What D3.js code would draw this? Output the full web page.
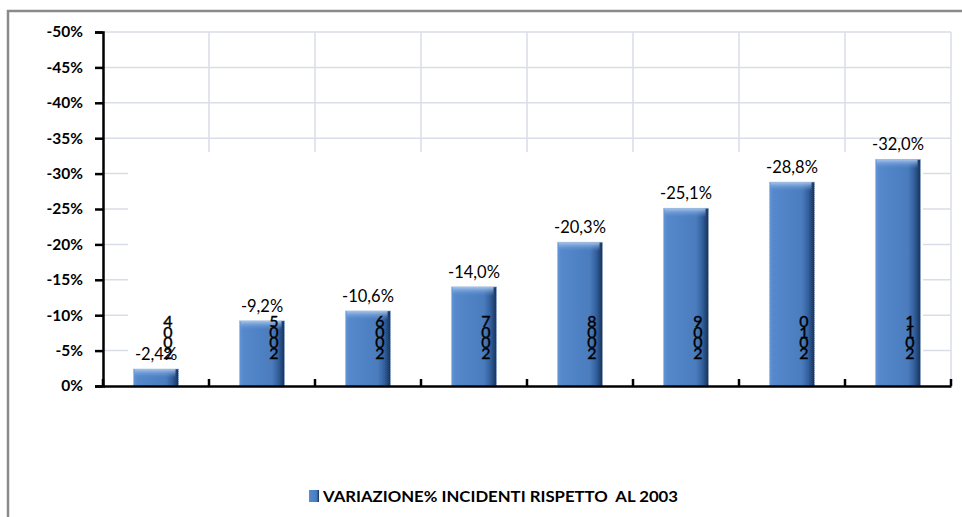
<!DOCTYPE html>
<html>
<head>
<meta charset="utf-8">
<script src="https://cdn.jsdelivr.net/npm/d3@7"></script>
<style>
html,body{margin:0;padding:0;background:#fff;}
svg{display:block;}
</style>
</head>
<body>
<svg id="chart" width="962" height="517"></svg>
<script>
const years = ["2004","2005","2006","2007","2008","2009","2010","2011"];
const values = [-2.4, -9.2, -10.6, -14.0, -20.3, -25.1, -28.8, -32.0];
const tickValues = [0, -5, -10, -15, -20, -25, -30, -35, -40, -45, -50];
const seriesName = "VARIAZIONE% INCIDENTI RISPETTO  AL 2003";

(function(){
const svg = d3.select("#chart");
const font = "Lato, 'Open Sans', 'Liberation Sans', sans-serif";

const pL = 103, pR = 951, pT = 32, pB = 386;
const x = d3.scaleBand().domain(years).range([pL, pR]).paddingInner(0.575).paddingOuter(0.2875);
const y = d3.scaleLinear().domain([0, -50]).range([pB, pT]);

// outer border
svg.append("path").attr("d", `M8,517 L8,11 L962,11`).attr("fill","none").attr("stroke","#8a8a8a").attr("stroke-width",2.5);

const defs = svg.append("defs");
const g1 = defs.append("linearGradient").attr("id","barGrad").attr("x1","0").attr("x2","1").attr("y1","0").attr("y2","0");
[["0%","#6396d6"],["8%","#5589cc"],["72%","#4a7cbe"],["86%","#34609c"],["100%","#15325a"]].forEach(s=>g1.append("stop").attr("offset",s[0]).attr("stop-color",s[1]));
const g2 = defs.append("linearGradient").attr("id","topGrad").attr("x1","0").attr("x2","0").attr("y1","0").attr("y2","1");
[["0%","#a9c6ec",1],["100%","#5b8dce",0]].forEach(s=>g2.append("stop").attr("offset",s[0]).attr("stop-color",s[1]).attr("stop-opacity",s[2]));

// gridlines
const step = x.step();
const boundaries = d3.range(years.length + 1).map(i => pL + i * step);
const grid = svg.append("g");
grid.selectAll("line.h").data(tickValues.filter(v => v !== 0)).join("line")
  .attr("x1", pL).attr("x2", pR).attr("y1", d => y(d)).attr("y2", d => y(d))
  .attr("stroke", "#d9dde8").attr("stroke-width", 1.5);
grid.selectAll("line.v").data(boundaries.slice(1)).join("line")
  .attr("x1", d => d).attr("x2", d => d).attr("y1", pT).attr("y2", pB)
  .attr("stroke", "#d9dde8").attr("stroke-width", 1.5);

// white box covering inner gridlines (as in reference)
svg.append("rect").attr("x", 128).attr("y", 152).attr("width", 923 - 128).attr("height", pB - 152).attr("fill", "#fff");

// bars
const bars = svg.append("g");
bars.selectAll("rect.bar").data(values).join("rect")
  .attr("x", (d,i) => x(years[i])).attr("width", x.bandwidth())
  .attr("y", d => y(d)).attr("height", d => y(0) - y(d))
  .attr("fill", "url(#barGrad)");
bars.selectAll("rect.top").data(values).join("rect")
  .attr("x", (d,i) => x(years[i]) + 1).attr("width", x.bandwidth() - 4)
  .attr("y", d => y(d)).attr("height", d => Math.min(9, y(0) - y(d)))
  .attr("fill", "url(#topGrad)");
bars.selectAll("rect.edge").data(values).join("rect")
  .attr("x", (d,i) => x(years[i])).attr("width", x.bandwidth())
  .attr("y", d => y(d)).attr("height", d => y(0) - y(d))
  .attr("fill", "none").attr("stroke", "#9db7d8").attr("stroke-width", 1).attr("stroke-dasharray", "1,1");

// y axis
const yAxis = svg.append("g").attr("transform", `translate(${pL},0)`)
  .call(d3.axisLeft(y).tickValues(tickValues).tickSize(8).tickPadding(12)
    .tickFormat(d => (d === 0 ? "0" : d3.format("d")(d).replace("−", "-")) + "%"));
yAxis.select(".domain").attr("stroke", "#000").attr("stroke-width", 2.5);
yAxis.selectAll(".tick line").attr("stroke", "#000").attr("stroke-width", 2.5);
yAxis.selectAll(".tick text").attr("font-family", font).attr("font-weight", "bold").attr("font-size", 15.5).attr("fill", "#000");

// x axis
const xAxis = svg.append("g").attr("transform", `translate(0,${pB})`)
  .call(d3.axisBottom(x).tickSize(0).tickFormat(""));
xAxis.select(".domain").attr("stroke", "#000").attr("stroke-width", 2.5);
xAxis.selectAll(".tick").remove();
xAxis.selectAll("line.bt").data(boundaries).join("line")
  .attr("x1", d => d).attr("x2", d => d).attr("y1", 0).attr("y2", -7)
  .attr("stroke", "#000").attr("stroke-width", 2.5);

// category labels (stacked, reversed digits)
const cats = svg.append("g");
years.forEach((yr, i) => {
  const cx = x(yr) + x.bandwidth() / 2 + 12;
  const chars = yr.split("").reverse();
  chars.forEach((c, j) => {
    cats.append("text").attr("x", cx).attr("y", 327 + j * 10.5)
      .attr("text-anchor", "middle").attr("font-family", font).attr("font-size", 16)
      .attr("fill", "#000").attr("stroke", "#000").attr("stroke-width", 0.4)
      .text(c);
  });
});

// value labels
svg.append("g").selectAll("text").data(values).join("text")
  .attr("x", (d,i) => x(years[i]) + x.bandwidth() / 2)
  .attr("y", d => y(d) - 9)
  .attr("text-anchor", "middle").attr("font-family", font).attr("font-size", 16.5).attr("fill", "#000")
  .text(d => d3.format(".1f")(d).replace(".", ",").replace("−", "-") + "%");

// legend
const lg = svg.append("g");
lg.append("rect").attr("x", 309).attr("y", 490).attr("width", 10).attr("height", 12).attr("fill", "url(#barGrad)");
lg.append("text").attr("x", 323).attr("y", 502).attr("font-family", font).attr("font-weight", "bold").attr("font-size", 14.5)
  .attr("textLength", 355).attr("lengthAdjust", "spacingAndGlyphs").attr("fill", "#000").style("white-space","pre")
  .text(seriesName);
})();
</script>
</body>
</html>
